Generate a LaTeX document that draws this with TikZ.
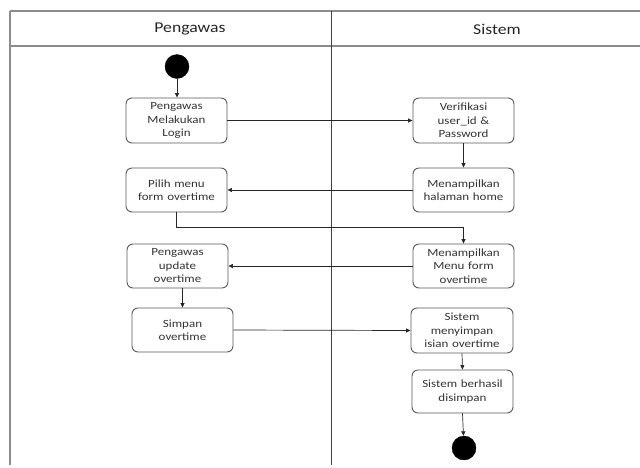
\documentclass[tikz,border=0pt]{standalone}
\usepackage{fontspec}
\setmainfont{Carlito}[FakeStretch=1.18]
\usetikzlibrary{arrows.meta}
\begin{document}
\begin{tikzpicture}[x=1pt,y=-1pt,
  frame/.style={draw=black!45,line width=1.1pt},
  divline/.style={draw=black!75,line width=0.9pt},
  act/.style={draw=black!65,line width=0.9pt,rounded corners=6pt,fill=white,
    minimum width=101pt,minimum height=44pt,text width=95pt,align=center,
    inner sep=0pt,text=black!80,font=\fontsize{11}{13.5}\selectfont},
  dot/.style={circle,fill=black,draw=black,minimum size=24pt,inner sep=0pt},
  flow/.style={draw=black!85,line width=0.7pt,-{Triangle[length=4.5pt,width=4pt]}},
  head/.style={text=black!85,font=\fontsize{15}{18}\selectfont}]
\useasboundingbox (0,0) rectangle (640,467);
% swimlane frame
\draw[frame] (10,11) -- (640,11);
\draw[frame] (10,46) -- (640,46);
\draw[frame] (10,11) -- (10,465);
\draw[divline] (331,11) -- (331,465);
\node[head] (h1) at (190,29) {Pengawas};
\node[head] (h2) at (497,29) {Sistem};
% nodes
\node[dot] (start) at (177,66.5) {};
\node[act,minimum height=45pt] (login) at (176.5,120.5) {Pengawas\\Melakukan\\Login};
\node[act,minimum height=45pt] (verif) at (463.5,120.5) {Verifikasi\\user\_id \&\\Password};
\node[act] (home) at (463.5,190) {Menampilkan\\halaman home};
\node[act] (pilih) at (176.5,190) {Pilih menu\\form overtime};
\node[act] (menu) at (463.5,266) {Menampilkan\\Menu form\\overtime};
\node[act] (update) at (177.5,266) {Pengawas\\update\\overtime};
\node[act] (simpan) at (182.5,330) {Simpan\\overtime};
\node[act,minimum width=102pt,minimum height=45pt] (menyimpan) at (462,330.5) {Sistem\\menyimpan\\isian overtime};
\node[act,minimum height=43pt] (berhasil) at (462.5,391.5) {Sistem berhasil\\disimpan};
\node[dot] (end) at (464,448) {};
% connectors
\draw[flow] (start) -- (start |- login.north);
\draw[flow] (login.east) -- (verif.west);
\draw[flow] (verif) -- (verif |- home.north);
\draw[flow] (home.west) -- (pilih.east);
\draw[flow] (pilih.south) -- ++(0,15) -| (menu.north);
\draw[flow] (menu.west) -- (update.east);
\draw[flow] (simpan.north |- update.south) -- (simpan.north);
\draw[flow] (simpan.east) -- (menyimpan.west);
\draw[flow] (menyimpan.south) -- (berhasil.north);
\draw[flow] (berhasil.south) -- (end);
\end{tikzpicture}
\end{document}
